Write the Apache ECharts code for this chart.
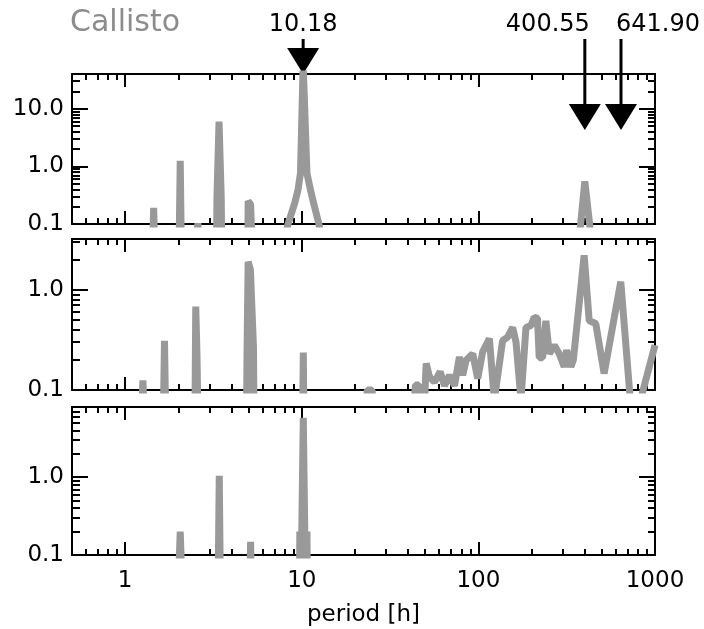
<!DOCTYPE html>
<html>
<head>
<meta charset="utf-8">
<script src="https://cdn.jsdelivr.net/npm/echarts@6/dist/echarts.min.js"></script>
<style>
html, body { margin: 0; background: #fff; }
#chart { width: 704px; height: 629px; }
</style>
</head>
<body>
<div id="chart"></div>
<script>
// [period (h), power]; values under 0.1 sit below the axis
const topData = [
  [1.43, 0.04], [1.45, 0.19], [1.47, 0.04],
  [2.02, 0.04], [2.05, 1.25], [2.08, 0.04],
  [2.55, 0.06], [2.58, 0.103], [2.62, 0.06],
  [3.29, 0.04], [3.31, 0.3], [3.40, 6.0], [3.50, 0.28], [3.52, 0.04],
  [4.95, 0.04], [4.97, 0.25], [5.10, 0.25], [5.13, 0.22], [5.22, 0.22], [5.24, 0.04],
  [8.0, 0.05], [8.36, 0.1], [9.12, 0.23], [9.52, 0.39], [9.83, 0.76], [10.18, 60],
  [10.7, 0.76], [11.2, 0.39], [11.67, 0.23], [12.5, 0.1], [13.0, 0.05],
  [372, 0.04], [378, 0.09], [400.55, 0.55], [428, 0.09], [434, 0.04]
]
const midData = [
  [1.23, 0.04], [1.26, 0.125], [1.29, 0.04],
  [1.64, 0.04], [1.67, 0.31], [1.70, 0.04],
  [2.48, 0.04], [2.51, 0.68], [2.55, 0.23], [2.57, 0.23], [2.59, 0.04],
  [4.86, 0.04], [4.9, 0.26], [4.97, 1.9], [5.12, 1.57], [5.24, 1.57], [5.33, 0.26], [5.37, 0.04],
  [10.1, 0.04], [10.2, 0.236], [10.3, 0.04],
  [23, 0.06], [23.5, 0.1], [25, 0.1], [25.5, 0.06],
  [43, 0.06], [44, 0.112], [46, 0.112], [47, 0.06],
  [49.5, 0.07], [50.6, 0.184], [52.9, 0.135], [56.4, 0.12], [60.8, 0.152], [64.3, 0.11],
  [68.6, 0.14], [73.2, 0.11], [78.1, 0.214], [81.5, 0.14], [85.2, 0.198], [92.9, 0.23],
  [99.1, 0.13], [105.7, 0.24], [115.4, 0.325], [123.1, 0.08], [137.1, 0.31], [146.4, 0.336],
  [156.3, 0.42], [163.3, 0.3], [174.2, 0.08], [185.9, 0.42], [198.4, 0.44], [207, 0.53],
  [216, 0.52], [221, 0.21], [231, 0.21], [241, 0.49], [252, 0.23], [269, 0.28], [287, 0.23],
  [306, 0.17], [316, 0.25], [334, 0.17], [345, 0.2], [397, 2.2], [424, 0.49], [462, 0.46],
  [515, 0.146], [640, 1.2], [729, 0.07], [812, 0.07], [1000, 0.28]
]
const botData = [
  [2.0, 0.04], [2.05, 0.2], [2.1, 0.04],
  [3.36, 0.04], [3.41, 1.04], [3.46, 0.04],
  [5.08, 0.04], [5.13, 0.148], [5.18, 0.04],
  [9.7, 0.04], [9.75, 0.2], [9.9, 0.05], [10.0, 0.2], [10.2, 5.8],
  [10.4, 0.2], [10.5, 0.05], [10.7, 0.2], [10.75, 0.04]
]

const xMin = 0.5
const xMax = 1000
const xMajor = [1, 10, 100, 1000]
const xMinor = [0.6, 0.7, 0.8, 0.9, 2, 3, 4, 5, 6, 7, 8, 9, 20, 30, 40, 50, 60, 70, 80, 90,
  200, 300, 400, 500, 600, 700, 800, 900]
const yMin = 0.1
const yMaxes = [40, 3.2, 8]
const yLabels = [0.1, 1, 10]
const yMinor = [0.2, 0.3, 0.4, 0.5, 0.6, 0.7, 0.8, 0.9, 2, 3, 4, 5, 6, 7, 8, 9, 20, 30]
const arrowPeriods = [10.18, 400.55, 641.90]

const panels = [topData, midData, botData]
const grids = [
  { left: 72, right: 49, top: 74, height: 150 },
  { left: 72, right: 49, top: 239, height: 151 },
  { left: 72, right: 49, top: 407, height: 148 }
]
const font = 'DejaVu Sans'
const black = '#000'
const gray = '#999'

const chart = echarts.init(document.getElementById('chart'))

const tick = (vals, len) => ({
  show: true, inside: true, length: len, customValues: vals,
  lineStyle: { color: black, width: 2 }
})
const frame = { show: true, lineStyle: { color: black, width: 2 } }
const noLabel = { show: false }

const xAxes = []
const yAxes = []
grids.forEach((g, i) => {
  const ymax = yMaxes[i]
  const yMaj = yLabels.filter(v => v <= ymax)
  const yMin2 = yMinor.filter(v => v < ymax)
  const base = { type: 'log', logBase: 10, gridIndex: i, splitLine: { show: false } }
  const xBase = Object.assign({}, base, { min: xMin, max: xMax })
  const yBase = Object.assign({}, base, { min: yMin, max: ymax })
  const last = i === grids.length - 1
  xAxes.push(Object.assign({}, xBase, {
    position: 'bottom', axisLine: frame, axisTick: tick(xMajor, 13),
    axisLabel: last ? {
      show: true, customValues: xMajor, formatter: v => String(Math.round(v)),
      fontFamily: font, fontSize: 23, color: black, margin: 15
    } : noLabel,
    name: last ? 'period [h]' : '', nameLocation: 'middle', nameGap: 49,
    nameTextStyle: { fontFamily: font, fontSize: 23, color: black }
  }))
  xAxes.push(Object.assign({}, xBase, { position: 'bottom', axisLine: { show: false }, axisTick: tick(xMinor, 6), axisLabel: noLabel }))
  xAxes.push(Object.assign({}, xBase, { position: 'top', axisLine: frame, axisTick: tick(xMajor, 13), axisLabel: noLabel }))
  xAxes.push(Object.assign({}, xBase, { position: 'top', axisLine: { show: false }, axisTick: tick(xMinor, 6), axisLabel: noLabel }))

  yAxes.push(Object.assign({}, yBase, {
    position: 'left', axisLine: frame, axisTick: tick(yMaj, 16),
    axisLabel: {
      show: true, customValues: yMaj, formatter: v => Number(v).toFixed(1),
      fontFamily: font, fontSize: 23, color: black, margin: 8
    }
  }))
  yAxes.push(Object.assign({}, yBase, { position: 'left', axisLine: { show: false }, axisTick: tick(yMin2, 8), axisLabel: noLabel }))
  yAxes.push(Object.assign({}, yBase, { position: 'right', axisLine: frame, axisTick: tick(yMaj, 16), axisLabel: noLabel }))
  yAxes.push(Object.assign({}, yBase, { position: 'right', axisLine: { show: false }, axisTick: tick(yMin2, 7), axisLabel: noLabel }))
})

chart.setOption({
  animation: false,
  backgroundColor: '#fff',
  grid: grids.map(g => Object.assign({ containLabel: false, outerBoundsMode: 'none' }, g)),
  xAxis: xAxes,
  yAxis: yAxes,
  series: panels.map((d, i) => ({
    type: 'line', data: d, xAxisIndex: i * 4, yAxisIndex: i * 4,
    showSymbol: false, clip: true,
    lineStyle: { color: gray, width: 7 }
  }))
})

// arrows and period labels above the top panel, placed through the x axis
const topY = grids[0].top
const graphics = [{
  type: 'text', left: 70, top: 8,
  style: { text: 'Callisto', fill: '#8c8c8c', font: '30px "' + font + '"' }
}]
const labelAlign = ['center', 'right', 'left']
const labelShift = [0, 5, -5]
arrowPeriods.forEach((p, k) => {
  const x = chart.convertToPixel({ xAxisIndex: 0 }, p)
  const tip = k === 0 ? topY : topY + 56
  const head = tip - 26
  graphics.push({
    type: 'text', x: x + labelShift[k], y: 25,
    style: { text: p.toFixed(2), fill: black, font: '24px "' + font + '"', align: labelAlign[k], verticalAlign: 'middle' }
  })
  graphics.push({
    type: 'line', shape: { x1: x, y1: 39, x2: x, y2: head + 2 },
    style: { stroke: black, lineWidth: 3 }
  })
  graphics.push({
    type: 'polygon', shape: { points: [[x - 16, head], [x + 16, head], [x, tip]] },
    style: { fill: black }
  })
})
chart.setOption({ graphic: graphics })
</script>
</body>
</html>
